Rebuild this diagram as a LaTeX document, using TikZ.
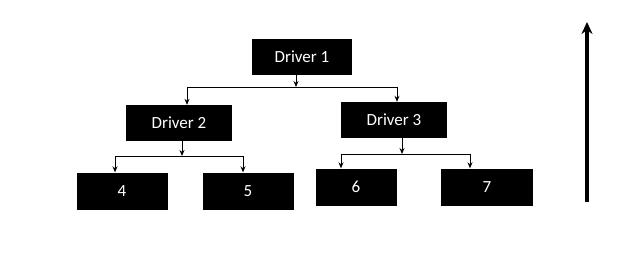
\documentclass[tikz,border=0pt]{standalone}
\usepackage{fontspec}
\setmainfont{Carlito}
\usetikzlibrary{arrows.meta,positioning}

\begin{document}
\begin{tikzpicture}[x=1pt,y=-1pt,>={Stealth[length=6pt,width=5pt]},font=\fontsize{17}{20}\selectfont]
    \tikzset{drv/.style={fill=black,text=white,minimum width=106pt,minimum height=36pt,inner sep=0pt},
      leaf/.style={fill=black,text=white,minimum width=91pt,minimum height=37pt,inner sep=0pt},
      link/.style={line width=0.8pt}}
    \useasboundingbox (0,0) rectangle (642,259);
    \node[drv,minimum width=100pt] (d1) at (302,57) {Driver 1};
    \node[drv] (d2) at (179,123) {Driver 2};
    \node[drv] (d3) at (394,120) {Driver 3};
    \node[leaf] (n4) at (122,191) {4};
    \node[leaf] (n5) at (248,191) {5};
    \node[leaf,minimum width=81pt] (n6) at (356,187) {6};
    \node[leaf,minimum width=92pt] (n7) at (487,187) {7};
    % junction lines
    \coordinate (j1) at (296,87);
    \coordinate (j1l) at (187,87);
    \coordinate (j1r) at (397,87);
    \coordinate (j2) at (182,156);
    \coordinate (j2l) at (115,156);
    \coordinate (j2r) at (243,156);
    \coordinate (j3) at (402,154);
    \coordinate (j3l) at (341,154);
    \coordinate (j3r) at (470,154);
    \draw[->,link] (d1.south -| j1) -- (j1);
    \draw[link] (j1l) -- (j1r);
    \draw[->,link] (j1l) -- (j1l |- d2.north);
    \draw[->,link] (j1r) -- (j1r |- d3.north);
    \draw[->,link] (d2.south -| j2) -- (j2);
    \draw[link] (j2l) -- (j2r);
    \draw[->,link] (j2l) -- (j2l |- n4.north);
    \draw[->,link] (j2r) -- (j2r |- n5.north);
    \draw[->,link] (d3.south -| j3) -- (j3);
    \draw[link] (j3l) -- (j3r);
    \draw[->,link] (j3l) -- (j3l |- n6.north);
    \draw[->,link] (j3r) -- (j3r |- n7.north);
    % upward arrow
    \coordinate (up0) at (587,202);
    \coordinate (up1) at (587,22);
    \draw[-{Stealth[length=12pt,width=11pt]},line width=3.2pt] (up0) -- (up1);
  \end{tikzpicture}
\end{document}
